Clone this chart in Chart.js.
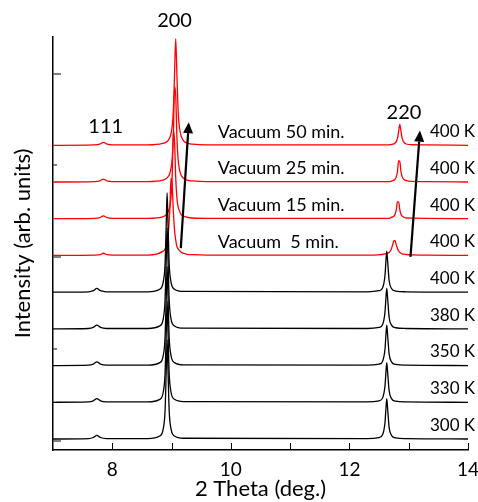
<!DOCTYPE html>
<html>
<head>
<meta charset="utf-8">
<script src="https://cdn.jsdelivr.net/npm/chart.js@4"></script>
<style>
  html, body { margin: 0; padding: 0; background: #fff; }
  #wrap { width: 478px; height: 502px; }
</style>
</head>
<body>
<div id="wrap"><canvas id="xrd"></canvas></div>
<script>
// ====== DATA ======
// 2-theta sample positions for the black (temperature) patterns
const blackX = [7.0, 7.6, 7.68, 7.74, 7.8, 7.9, 8.6, 8.8, 8.86, 8.89, 8.91, 8.925, 8.94, 8.96, 8.99, 9.05, 9.2,
                12.3, 12.5, 12.56, 12.6, 12.615, 12.63, 12.645, 12.67, 12.71, 12.78, 12.95, 14.0];
const k300 = [0, 0.01, 0.04, 0.10, 0.04, 0.01, 0.01, 0.08, 0.28, 0.76, 1.85, 2.70, 1.85, 0.76, 0.28, 0.08, 0.02,
              0.01, 0.04, 0.12, 0.45, 0.81, 1.10, 0.81, 0.31, 0.10, 0.03, 0.01, 0];
const k330 = [0, 0.01, 0.04, 0.10, 0.04, 0.01, 0.01, 0.08, 0.28, 0.78, 1.88, 2.75, 1.88, 0.78, 0.28, 0.08, 0.02,
              0.01, 0.04, 0.12, 0.45, 0.80, 1.08, 0.80, 0.31, 0.10, 0.03, 0.01, 0];
const k350 = [0, 0.01, 0.04, 0.10, 0.04, 0.01, 0.01, 0.08, 0.28, 0.76, 1.85, 2.70, 1.85, 0.76, 0.28, 0.08, 0.02,
              0.01, 0.04, 0.12, 0.45, 0.82, 1.10, 0.82, 0.31, 0.10, 0.03, 0.01, 0];
const k380 = [0, 0.01, 0.04, 0.10, 0.04, 0.01, 0.01, 0.08, 0.28, 0.78, 1.88, 2.75, 1.88, 0.78, 0.28, 0.08, 0.02,
              0.01, 0.04, 0.12, 0.46, 0.82, 1.10, 0.82, 0.31, 0.10, 0.03, 0.01, 0];
const k400 = [0, 0.01, 0.04, 0.10, 0.04, 0.01, 0.01, 0.08, 0.28, 0.76, 1.85, 2.70, 1.85, 0.76, 0.28, 0.08, 0.02,
              0.01, 0.04, 0.12, 0.46, 0.83, 1.12, 0.83, 0.31, 0.10, 0.03, 0.01, 0];

// 2-theta sample positions for the red (vacuum) patterns
const redX = [7.0, 7.7, 7.79, 7.85, 7.91, 8.0, 8.6, 8.85, 8.93, 8.97, 8.99, 9.01, 9.03, 9.05, 9.07, 9.09, 9.11, 9.13,
              9.16, 9.2, 9.26, 9.35, 9.6, 12.4, 12.65, 12.7, 12.73, 12.75, 12.77, 12.79, 12.81, 12.83, 12.85, 12.87,
              12.89, 12.92, 12.96, 13.05, 13.3, 14.0];
const vac5  = [0, 0.01, 0.02, 0.06, 0.02, 0.01, 0.01, 0.11, 0.42, 1.21, 2.10, 1.94, 1.21, 0.69, 0.42, 0.24, 0.18, 0.14,
               0.09, 0.06, 0.03, 0.02, 0.01, 0.01, 0.06, 0.15, 0.29, 0.40, 0.40, 0.29, 0.19, 0.12, 0.08, 0.06,
               0.045, 0.035, 0.025, 0.015, 0.01, 0];
const vac15 = [0, 0.01, 0.03, 0.08, 0.03, 0.01, 0.01, 0.05, 0.15, 0.33, 0.57, 1.12, 2.40, 2.12, 1.12, 0.57, 0.33, 0.22,
               0.12, 0.07, 0.04, 0.02, 0.01, 0.01, 0.01, 0.03, 0.05, 0.07, 0.12, 0.24, 0.46, 0.46, 0.24, 0.12,
               0.07, 0.04, 0.02, 0.015, 0.01, 0];
const vac25 = [0, 0.01, 0.03, 0.08, 0.03, 0.01, 0.01, 0.05, 0.12, 0.23, 0.37, 0.63, 1.23, 2.60, 2.35, 1.23, 0.63, 0.37,
               0.19, 0.10, 0.05, 0.03, 0.01, 0.01, 0.01, 0.02, 0.04, 0.05, 0.08, 0.14, 0.28, 0.58, 0.55, 0.28,
               0.14, 0.07, 0.035, 0.015, 0.01, 0];
const vac50 = [0, 0.01, 0.03, 0.08, 0.03, 0.01, 0.01, 0.05, 0.11, 0.21, 0.32, 0.52, 0.95, 1.92, 2.90, 1.92, 0.95, 0.52,
               0.26, 0.13, 0.06, 0.03, 0.01, 0.01, 0.01, 0.02, 0.03, 0.04, 0.06, 0.10, 0.19, 0.38, 0.57, 0.38,
               0.19, 0.08, 0.035, 0.015, 0.01, 0];

// stacking, bottom to top
const curveNames  = ['300 K', '330 K', '350 K', '380 K', '400 K', 'Vacuum  5 min.', 'Vacuum 15 min.', 'Vacuum 25 min.', 'Vacuum 50 min.'];
const curveValues = [k300, k330, k350, k380, k400, vac5, vac15, vac25, vac50];
const curveX      = [blackX, blackX, blackX, blackX, blackX, redX, redX, redX, redX];
const offsets     = [0.05, 1.05, 2.05, 3.05, 4.05, 5.05, 6.05, 7.05, 8.05];
const tempLabels  = ['300 K', '330 K', '350 K', '380 K', '400 K', '400 K', '400 K', '400 K', '400 K'];

// peak index labels [text, 2theta, height]
const peakLabels = [['200', 9.05, 11.46], ['111', 7.89, 8.57], ['220', 12.92, 8.93]];
// arrows [x0, y0, x1, y1]
const arrows = [[9.156, 5.25, 9.29, 8.68], [13.03, 5.01, 13.19, 8.45]];

const xTicks = [8, 9, 10, 11, 12, 13, 14];
const yTicks = [0, 2.5, 5, 7.5, 10];

const FONT = 'Lato, "Open Sans", sans-serif';

// ====== DATASETS ======
const datasets = curveValues.map((vals, i) => ({
  label: curveNames[i],
  data: vals.map((v, j) => ({ x: curveX[i][j], y: v + offsets[i] })),
  borderColor: i < 5 ? '#000000' : '#ff0000',
  borderWidth: 1.3,
  pointRadius: 0,
  fill: false,
  cubicInterpolationMode: 'monotone'
}));

// ====== DECOR PLUGIN ======
const decor = {
  id: 'decor',
  afterDatasetsDraw(chart) {
    const { ctx, scales: { x, y } } = chart;
    const left = x.left, bottom = y.bottom;
    ctx.save();

    // inward ticks
    ctx.strokeStyle = '#000';
    ctx.lineWidth = 1;
    xTicks.forEach(t => {
      const px = Math.round(x.getPixelForValue(t)) + 0.5;
      ctx.beginPath(); ctx.moveTo(px, bottom); ctx.lineTo(px, bottom - 7); ctx.stroke();
    });
    ctx.strokeStyle = '#555';
    ctx.lineWidth = 1.5;
    yTicks.forEach((t, i) => {
      const py = Math.round(y.getPixelForValue(t));
      const len = i % 2 === 0 ? 8 : 4;
      ctx.beginPath(); ctx.moveTo(left, py); ctx.lineTo(left + len, py); ctx.stroke();
    });

    // arrows
    ctx.strokeStyle = '#000';
    ctx.fillStyle = '#000';
    ctx.lineWidth = 2.2;
    arrows.forEach(([a, b, c, d]) => {
      const x0 = x.getPixelForValue(a), y0 = y.getPixelForValue(b);
      const x1 = x.getPixelForValue(c), y1 = y.getPixelForValue(d);
      const ang = Math.atan2(y1 - y0, x1 - x0);
      const hl = 11, hw = 5;
      const bx = x1 - hl * Math.cos(ang), by = y1 - hl * Math.sin(ang);
      ctx.beginPath(); ctx.moveTo(x0, y0); ctx.lineTo(bx, by); ctx.stroke();
      ctx.beginPath();
      ctx.moveTo(x1, y1);
      ctx.lineTo(bx + hw * Math.sin(ang), by - hw * Math.cos(ang));
      ctx.lineTo(bx - hw * Math.sin(ang), by + hw * Math.cos(ang));
      ctx.closePath(); ctx.fill();
    });

    // labels
    ctx.fillStyle = '#000';
    ctx.textBaseline = 'middle';
    ctx.font = '20px ' + FONT;
    ctx.textAlign = 'center';
    peakLabels.forEach(([t, px, py]) => ctx.fillText(t, x.getPixelForValue(px), y.getPixelForValue(py)));

    ctx.font = '17px ' + FONT;
    ctx.textAlign = 'right';
    tempLabels.forEach((t, i) => ctx.fillText(t, x.getPixelForValue(14.12), y.getPixelForValue(offsets[i] + 0.37)));

    ctx.font = '18px ' + FONT;
    ctx.textAlign = 'left';
    curveNames.slice(5).forEach((t, i) => ctx.fillText(t, x.getPixelForValue(9.78), y.getPixelForValue(offsets[i + 5] + 0.37)));

    ctx.restore();
  }
};

// ====== CHART ======
new Chart(document.getElementById('xrd'), {
  type: 'line',
  data: { datasets },
  plugins: [decor],
  options: {
    responsive: true,
    maintainAspectRatio: false,
    animation: false,
    devicePixelRatio: 1,
    layout: { padding: { top: 37, right: 0, left: 0, bottom: 0 } },
    plugins: { legend: { display: false }, tooltip: { enabled: false } },
    scales: {
      x: {
        type: 'linear', min: 7, max: 14,
        afterFit: s => { s.height = 52; s.paddingRight = 10; },
        grid: { display: false, drawTicks: false },
        border: { display: true, color: '#000', width: 1.5 },
        ticks: {
          stepSize: 1, autoSkip: false, maxRotation: 0, padding: 8, color: '#000',
          font: { family: FONT, size: 19 },
          callback: v => (v % 2 === 0 ? v : '')
        },
        title: { display: true, text: '2 Theta (deg.)', color: '#000', font: { family: FONT, size: 22 }, padding: 0 }
      },
      y: {
        type: 'linear', min: -0.25, max: 11,
        afterFit: s => { s.width = 53; },
        grid: { display: false, drawTicks: false },
        border: { display: true, color: '#000', width: 1.5 },
        ticks: { display: false },
        title: { display: true, text: 'Intensity (arb. units)', color: '#000', font: { family: FONT, size: 22 }, padding: { top: 10, bottom: 0 } }
      }
    }
  }
});
</script>
</body>
</html>
